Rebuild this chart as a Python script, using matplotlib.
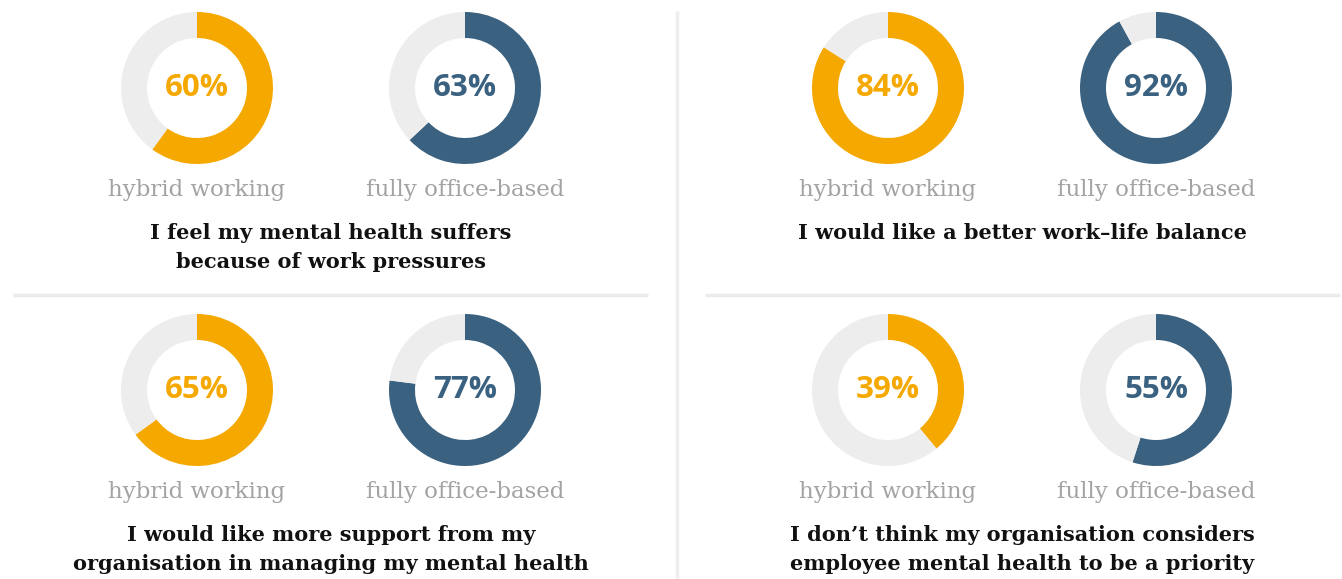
import matplotlib
matplotlib.use('Agg')
import matplotlib.pyplot as plt


# survey results, % agreeing
statements = [
    'I feel my mental health suffers\nbecause of work pressures',
    'I would like a better work\u2013life balance',
    'I would like more support from my\norganisation in managing my mental health',
    'I don\u2019t think my organisation considers\nemployee mental health to be a priority',
]
groups = ['hybrid working', 'fully office-based']
hybrid = [60, 84, 65, 39]
office = [63, 92, 77, 55]

orange = '#F5A800'
blue = '#3A6180'
ring_bg = '#EDEDED'
label_grey = '#A3A3A3'

W, H = 1342, 579
fig = plt.figure(figsize=(W / 100, H / 100), dpi=100)
ax = fig.add_axes([0, 0, 1, 1])

# panel centres (pixels from top-left)
panel_x = [331, 1022, 331, 1022]
donut_y = [88, 88, 390, 390]
gap = 134
r_out, ring_w = 76, 26


def donut(cx, cy, value, color):
    ax.pie([value, 100 - value], colors=[color, ring_bg], radius=r_out,
           center=(cx, H - cy), startangle=90, counterclock=False,
           wedgeprops=dict(width=ring_w, linewidth=0))
    ax.text(cx, H - cy, f'{value}%', ha='center', va='center', color=color,
            fontsize=22.5, fontweight='bold', family='Open Sans')


for i, title in enumerate(statements):
    px, py = panel_x[i], donut_y[i]
    for j, (vals, col) in enumerate([(hybrid, orange), (office, blue)]):
        cx = px + (j * 2 - 1) * gap
        donut(cx, py, vals[i], col)
        ax.text(cx, H - (py + 102), groups[j], ha='center', va='center',
                color=label_grey, fontsize=16.5, family='DejaVu Serif',
                fontweight='light')
    # statement, one line at a time
    for k, line in enumerate(title.split('\n')):
        ax.text(px, H - (py + 145 + 29 * k), line, ha='center', va='center',
                color='#111111', fontsize=15, fontweight='bold',
                family='DejaVu Serif')

# separators
ax.plot([13, 648], [H - 295, H - 295], color='#EBEBEB', lw=2.5,
        solid_capstyle='butt')
ax.plot([705, 1340], [H - 295, H - 295], color='#EBEBEB', lw=2.5,
        solid_capstyle='butt')
ax.plot([677, 677], [H - 11, 0], color='#EEEEEE', lw=2.5,
        solid_capstyle='butt')

ax.set_xlim(0, W)
ax.set_ylim(0, H)
ax.set_aspect('equal')
ax.axis('off')

fig.savefig('out.png', dpi=100, facecolor='white')
